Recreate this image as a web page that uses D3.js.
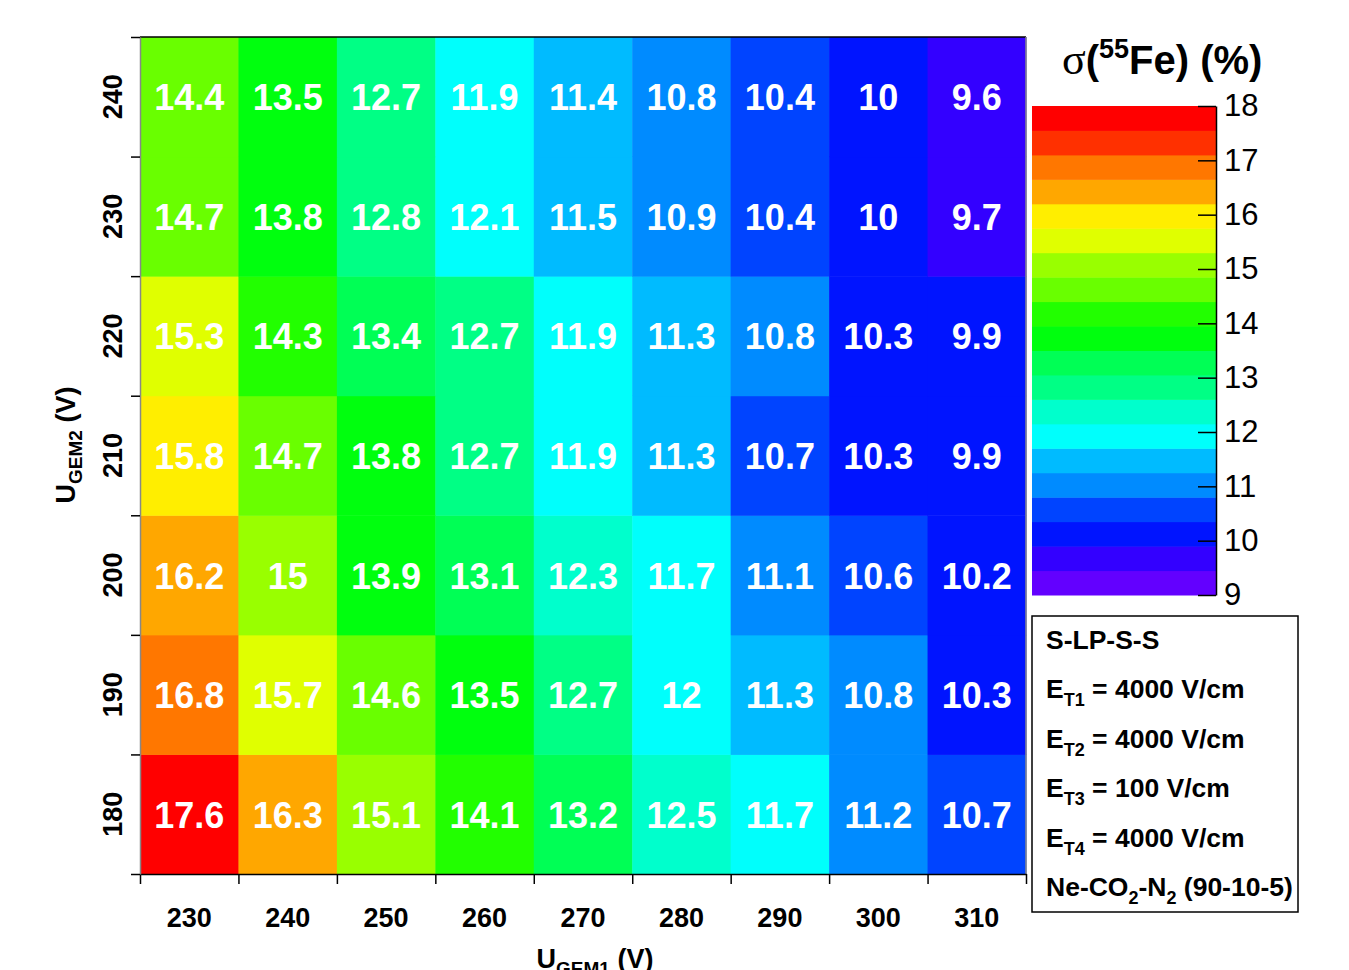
<!DOCTYPE html>
<html>
<head>
<meta charset="utf-8">
<script src="https://cdn.jsdelivr.net/npm/d3@7"></script>
<style>
  html, body { margin: 0; padding: 0; background: #fff; }
  svg { display: block; font-family: "Liberation Sans", Arial, Helvetica, sans-serif; }
</style>
</head>
<body>
<svg id="chart" width="1349" height="970"></svg>
<script>
// GEM voltages (V)
const uGem1 = [230, 240, 250, 260, 270, 280, 290, 300, 310];
const uGem2 = [180, 190, 200, 210, 220, 230, 240];

// Energy resolution sigma(55Fe) in %, one row per U_GEM2 setting, ordered by U_GEM1
const sigma180 = [17.6, 16.3, 15.1, 14.1, 13.2, 12.5, 11.7, 11.2, 10.7];
const sigma190 = [16.8, 15.7, 14.6, 13.5, 12.7, 12, 11.3, 10.8, 10.3];
const sigma200 = [16.2, 15, 13.9, 13.1, 12.3, 11.7, 11.1, 10.6, 10.2];
const sigma210 = [15.8, 14.7, 13.8, 12.7, 11.9, 11.3, 10.7, 10.3, 9.9];
const sigma220 = [15.3, 14.3, 13.4, 12.7, 11.9, 11.3, 10.8, 10.3, 9.9];
const sigma230 = [14.7, 13.8, 12.8, 12.1, 11.5, 10.9, 10.4, 10, 9.7];
const sigma240 = [14.4, 13.5, 12.7, 11.9, 11.4, 10.8, 10.4, 10, 9.6];
const sigmaRows = [sigma180, sigma190, sigma200, sigma210, sigma220, sigma230, sigma240];

// Colour axis range and labels
const zMin = 9, zMax = 18, nLevels = 20;
const zTicks = [9, 10, 11, 12, 13, 14, 15, 16, 17, 18];

// Legend lines: [text, kind]
const legendLines = [
  [["S-LP-S-S", null]],
  [["E", null], ["T1", "sub"], [" = 4000 V/cm", null]],
  [["E", null], ["T2", "sub"], [" = 4000 V/cm", null]],
  [["E", null], ["T3", "sub"], [" = 100 V/cm", null]],
  [["E", null], ["T4", "sub"], [" = 4000 V/cm", null]],
  [["Ne-CO", null], ["2", "sub"], ["-N", null], ["2", "sub"], [" (90-10-5)", null]]
];

const cells = [];
uGem2.forEach((y, r) => uGem1.forEach((x, c) => cells.push({ x, y, v: sigmaRows[r][c] })));

const svg = d3.select("#chart");

// Plot frame
const L = 140, R = 1026, T = 37, B = 874;

const x = d3.scaleBand().domain(uGem1).range([L, R]).padding(0);
const y = d3.scaleBand().domain(uGem2).range([B, T]).padding(0);
const xEdge = d3.scaleLinear().domain([225, 315]).range([L, R]);
const yEdge = d3.scaleLinear().domain([175, 245]).range([B, T]);

// Rainbow palette (hue sweep violet -> red, 50 colours, 20 contour levels)
const levelWidth = (zMax - zMin) / nLevels;
function levelColour(k) {
  const i = Math.floor((k + 0.99) * 50 / nLevels);
  const hue = i >= 49 ? 0 : 280 - (i + 1) * 5.6;
  return d3.hsl(hue, 1, 0.5).formatHex();
}
function levelOf(v) {
  return Math.max(0, Math.min(nLevels - 1, Math.floor((v - zMin) / levelWidth + 1e-6)));
}

// Heatmap cells
svg.append("g").selectAll("rect").data(cells).join("rect")
  .attr("x", d => x(d.x))
  .attr("y", d => y(d.y))
  .attr("width", x.bandwidth() + 0.5)
  .attr("height", y.bandwidth() + 0.5)
  .attr("fill", d => levelColour(levelOf(d.v)));

// Cell value labels
svg.append("g").selectAll("text").data(cells).join("text")
  .attr("x", d => x(d.x) + x.bandwidth() / 2)
  .attr("y", d => y(d.y) + y.bandwidth() / 2 + 1)
  .attr("text-anchor", "middle")
  .attr("dominant-baseline", "central")
  .attr("fill", "#fff")
  .attr("font-weight", "bold")
  .attr("font-size", 36)
  .text(d => String(d.v));

// Frame lines
svg.append("line").attr("x1", L).attr("x2", R).attr("y1", T).attr("y2", T).attr("stroke", "#000").attr("stroke-width", 1.5);
svg.append("line").attr("x1", R).attr("x2", R).attr("y1", T).attr("y2", B).attr("stroke", "#888").attr("stroke-width", 1.5);

// Bottom axis: ticks on bin edges
const xAxis = svg.append("g").attr("transform", `translate(0,${B})`)
  .call(d3.axisBottom(xEdge).tickValues(d3.range(225, 316, 10)).tickSize(10).tickSizeOuter(0).tickFormat(""));
xAxis.select(".domain").attr("stroke", "#000").attr("stroke-width", 1.5);
xAxis.selectAll(".tick line").attr("stroke", "#000").attr("stroke-width", 1.5);

// Left axis: ticks on bin edges
const yAxis = svg.append("g").attr("transform", `translate(${L},0)`)
  .call(d3.axisLeft(yEdge).tickValues(d3.range(175, 246, 10)).tickSize(9).tickSizeOuter(0).tickFormat(""));
yAxis.select(".domain").attr("stroke", "#888").attr("stroke-width", 1.5);
yAxis.selectAll(".tick line").attr("stroke", "#000").attr("stroke-width", 1.5);

// Tick labels at bin centres
svg.append("g").selectAll("text").data(uGem1).join("text")
  .attr("x", d => x(d) + x.bandwidth() / 2)
  .attr("y", 918)
  .attr("text-anchor", "middle")
  .attr("dominant-baseline", "central")
  .attr("font-weight", "bold")
  .attr("font-size", 27)
  .text(d => d);

svg.append("g").selectAll("text").data(uGem2).join("text")
  .attr("transform", d => `translate(113,${y(d) + y.bandwidth() / 2}) rotate(-90)`)
  .attr("text-anchor", "middle")
  .attr("dominant-baseline", "central")
  .attr("font-weight", "bold")
  .attr("font-size", 27)
  .text(d => d);

// Axis titles
const xTitle = svg.append("text")
  .attr("x", 595).attr("y", 968)
  .attr("text-anchor", "middle")
  .attr("font-weight", "bold")
  .attr("font-size", 27);
xTitle.append("tspan").text("U");
xTitle.append("tspan").attr("font-size", 19).attr("dy", 7).text("GEM1");
xTitle.append("tspan").attr("dy", -7).text(" (V)");

const yTitle = svg.append("text")
  .attr("transform", "translate(75,445) rotate(-90)")
  .attr("text-anchor", "middle")
  .attr("font-weight", "bold")
  .attr("font-size", 27);
yTitle.append("tspan").text("U");
yTitle.append("tspan").attr("font-size", 19).attr("dy", 7).text("GEM2");
yTitle.append("tspan").attr("dy", -7).text(" (V)");

// Colour bar
const cbL = 1032, cbR = 1216;
const z = d3.scaleLinear().domain([zMin, zMax]).range([595, 106]);
svg.append("g").selectAll("rect").data(d3.range(nLevels)).join("rect")
  .attr("x", cbL)
  .attr("width", cbR - cbL)
  .attr("y", k => z(zMin + (k + 1) * levelWidth))
  .attr("height", k => z(zMin + k * levelWidth) - z(zMin + (k + 1) * levelWidth) + 0.5)
  .attr("fill", k => levelColour(k));

const zAxis = svg.append("g").attr("transform", `translate(${cbR},0)`)
  .call(d3.axisRight(z).tickValues(zTicks).tickSize(-18).tickSizeOuter(0).tickPadding(8));
zAxis.select(".domain").attr("stroke", "#000").attr("stroke-width", 1.5);
zAxis.selectAll(".tick line").attr("stroke", "#000").attr("stroke-width", 1.5);
zAxis.selectAll(".tick text")
  .attr("font-size", 31)
  .attr("font-family", "Liberation Sans, Arial, sans-serif")
  .attr("fill", "#000");

// Colour bar title
const zTitle = svg.append("text")
  .attr("x", 1062).attr("y", 74)
  .attr("font-size", 40)
  .attr("font-weight", "bold");
zTitle.append("tspan").attr("font-weight", "normal").attr("font-family", "Liberation Serif, serif").attr("font-size", 44).text("σ");
zTitle.append("tspan").text("(");
zTitle.append("tspan").attr("font-size", 27).attr("dy", -16).text("55");
zTitle.append("tspan").attr("dy", 16).text("Fe) (%)");

// Legend box
svg.append("rect")
  .attr("x", 1032).attr("y", 616).attr("width", 266).attr("height", 296)
  .attr("fill", "#fff").attr("stroke", "#000").attr("stroke-width", 1.5);

const legend = svg.append("g");
legendLines.forEach((parts, i) => {
  const t = legend.append("text")
    .attr("x", 1046).attr("y", 649 + i * 49.4)
    .attr("font-weight", "bold")
    .attr("font-size", 26.5);
  let shifted = false;
  parts.forEach(([txt, kind]) => {
    const s = t.append("tspan").text(txt);
    if (kind === "sub") { s.attr("font-size", 18); if (!shifted) { s.attr("dy", 8); shifted = true; } }
    else if (shifted) { s.attr("dy", -8); shifted = false; }
  });
});
</script>
</body>
</html>
